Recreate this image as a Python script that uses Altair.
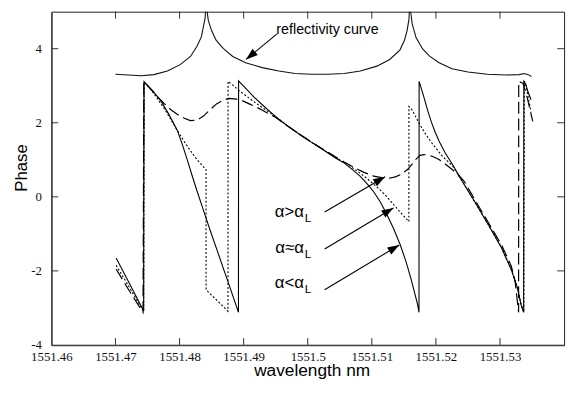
import math
import altair as alt
import pandas as pd

# ---------------- data ----------------
refl_x = [1551.4700, 1551.4720, 1551.4740, 1551.4760, 1551.4781, 1551.4801, 1551.4817, 1551.4827,
          1551.4834, 1551.4837, 1551.4840, 1551.4841, 1551.4843, 1551.4845, 1551.4850, 1551.4857,
          1551.4868, 1551.4883, 1551.4903, 1551.4929, 1551.4955, 1551.4980, 1551.5006, 1551.5031,
          1551.5057, 1551.5082, 1551.5108, 1551.5128, 1551.5144, 1551.5151, 1551.5155, 1551.5158,
          1551.5159, 1551.5161, 1551.5163, 1551.5169, 1551.5179, 1551.5190, 1551.5205, 1551.5225,
          1551.5250, 1551.5280, 1551.5310, 1551.5330, 1551.5338, 1551.5344, 1551.5349]
refl_y = [3.31, 3.29, 3.27, 3.30, 3.40, 3.57, 3.79, 4.06,
          4.32, 4.58, 4.84, 5.30, 5.00, 4.75, 4.49, 4.23,
          4.01, 3.79, 3.62, 3.49, 3.40, 3.33, 3.31, 3.31,
          3.33, 3.40, 3.53, 3.71, 3.97, 4.23, 4.49, 4.80,
          5.30, 4.95, 4.67, 4.30, 4.00, 3.80, 3.62, 3.46,
          3.37, 3.31, 3.29, 3.30, 3.33, 3.30, 3.25]

solid_x = [1551.4701, 1551.4722, 1551.4744, 1551.47445, 1551.4758, 1551.47708, 1551.47836, 1551.47963,
           1551.4804, 1551.48117, 1551.48193, 1551.4827, 1551.48372, 1551.48474, 1551.48577, 1551.48679,
           1551.48781, 1551.48919, 1551.48921, 1551.48975, 1551.49037, 1551.49159, 1551.49282, 1551.4942,
           1551.49548, 1551.49681, 1551.49804, 1551.49926, 1551.5006, 1551.50187, 1551.5031, 1551.50432,
           1551.5057, 1551.50693, 1551.50816, 1551.50928, 1551.51031, 1551.51133, 1551.5123, 1551.51337,
           1551.51445, 1551.51537, 1551.51613, 1551.51675, 1551.51713, 1551.51736, 1551.51738, 1551.51808,
           1551.5187, 1551.51931, 1551.51992, 1551.52054, 1551.5215, 1551.52258, 1551.52411, 1551.52615,
           1551.5282, 1551.53024, 1551.53178, 1551.5327, 1551.53331, 1551.53369, 1551.53372, 1551.5340,
           1551.53434, 1551.53484]
solid_y = [-1.65, -2.35, -3.08, 3.11, 2.87, 2.59, 2.22, 1.80,
           1.43, 1.02, 0.59, 0.17, -0.36, -0.89, -1.40, -1.91,
           -2.42, -3.12, 3.13, 3.03, 2.92, 2.70, 2.50, 2.29,
           2.10, 1.92, 1.77, 1.62, 1.47, 1.33, 1.19, 1.05,
           0.91, 0.74, 0.56, 0.35, 0.13, -0.14, -0.46, -0.85,
           -1.30, -1.77, -2.22, -2.64, -2.90, -3.12, 3.12, 2.72,
           2.34, 2.01, 1.73, 1.49, 1.17, 0.88, 0.42, -0.16,
           -0.76, -1.38, -1.98, -2.45, -2.93, -3.12, 3.12, 3.05,
           2.85, 2.62]

dot_x = [1551.4701, 1551.4722, 1551.4744, 1551.47447, 1551.47554, 1551.47656, 1551.47759, 1551.4786,
         1551.47963, 1551.48066, 1551.48167, 1551.4827, 1551.48413, 1551.48414, 1551.48756, 1551.48757,
         1551.48837, 1551.48934, 1551.49037, 1551.49159, 1551.49282, 1551.4942, 1551.49548, 1551.49681,
         1551.49804, 1551.49926, 1551.5006, 1551.50187, 1551.5031, 1551.50432, 1551.5057, 1551.50693,
         1551.50816, 1551.50928, 1551.51031, 1551.51133, 1551.5123, 1551.51337, 1551.51445, 1551.51521,
         1551.51578, 1551.51579, 1551.51606, 1551.51644, 1551.5169, 1551.51747, 1551.51843, 1551.51951,
         1551.52104, 1551.52258, 1551.52411, 1551.52615, 1551.5282, 1551.53024, 1551.53178, 1551.5327,
         1551.53331, 1551.53372, 1551.5338, 1551.5340, 1551.53484]
dot_y = [-1.85, -2.45, -3.10, 3.10, 2.89, 2.65, 2.39, 2.10,
         1.80, 1.51, 1.25, 1.01, 0.73, -2.51, -3.09, 3.12,
         3.01, 2.86, 2.73, 2.57, 2.42, 2.26, 2.10, 1.92,
         1.77, 1.62, 1.47, 1.33, 1.20, 1.07, 0.93, 0.79,
         0.64, 0.49, 0.34, 0.18, 0.01, -0.20, -0.42, -0.56,
         -0.67, 2.44, 2.40, 2.30, 2.14, 1.96, 1.68, 1.42,
         1.09, 0.84, 0.42, -0.16, -0.75, -1.36, -1.96, -2.43,
         -2.90, -3.12, 3.12, 3.05, 2.30]

dash_x = [1551.4701, 1551.4722, 1551.4743, 1551.47443, 1551.47549, 1551.47656, 1551.47759, 1551.4786,
          1551.47963, 1551.48066, 1551.48167, 1551.4827, 1551.48373, 1551.48474, 1551.48577, 1551.48679,
          1551.48781, 1551.48883, 1551.48986, 1551.49087, 1551.4919, 1551.49293, 1551.49394, 1551.49497,
          1551.49681, 1551.49804, 1551.5006, 1551.5031, 1551.5057, 1551.50726, 1551.50877, 1551.51031,
          1551.51153, 1551.51261, 1551.51368, 1551.5146, 1551.51552, 1551.51629, 1551.5169, 1551.51751,
          1551.51813, 1551.51874, 1551.51951, 1551.52054, 1551.5215, 1551.52258, 1551.5235, 1551.52442,
          1551.52615, 1551.5282, 1551.53024, 1551.53178, 1551.53239, 1551.5329, 1551.53292, 1551.53362,
          1551.53423, 1551.53511]
dash_y = [-1.95, -2.55, -3.12, 3.11, 2.91, 2.70, 2.52, 2.36,
          2.23, 2.13, 2.06, 2.07, 2.18, 2.35, 2.51, 2.61,
          2.66, 2.64, 2.59, 2.51, 2.43, 2.34, 2.24, 2.15,
          1.92, 1.77, 1.48, 1.21, 0.94, 0.79, 0.66, 0.56,
          0.52, 0.50, 0.54, 0.61, 0.73, 0.88, 1.02, 1.12,
          1.14, 1.13, 1.09, 1.00, 0.88, 0.73, 0.59, 0.42,
          -0.10, -0.70, -1.30, -1.88, -2.32, -3.12, 3.12, 3.06,
          2.69, 2.04]

x_tick_labels = [1551.46, 1551.47, 1551.48, 1551.49, 1551.50, 1551.51, 1551.52, 1551.53]
y_tick_labels = [-4, -2, 0, 2, 4]
x_inner_ticks = [1551.47, 1551.48, 1551.49, 1551.50, 1551.51, 1551.52, 1551.53]
y_inner_ticks = [-2, 0, 2, 4]

refl_label = ["reflectivity curve"]
refl_label_x = [1551.4951]
refl_label_y = [4.51]

arrow_x1 = [1551.4952, 1551.50264, 1551.50264, 1551.50264]
arrow_y1 = [4.40, -0.41, -1.41, -2.51]
arrow_x2 = [1551.49037, 1551.51207, 1551.51337, 1551.51429]
arrow_y2 = [3.71, 0.54, -0.30, -1.30]

alpha_main = ["α>α", "α≈α", "α<α"]
alpha_sub = ["L", "L", "L"]
alpha_x = [1551.4994, 1551.4994, 1551.4994]
alpha_y = [-0.41, -1.38, -2.33]

# ---------------- layout ----------------
W, H = 520, 338
XMIN, XMAX = 1551.46, 1551.54
YMIN, YMAX = -4, 5


def px(v):
    return (v - XMIN) / (XMAX - XMIN) * W


def py(v):
    return (YMAX - v) / (YMAX - YMIN) * H


angles = []
for a, b, c, d in zip(arrow_x1, arrow_y1, arrow_x2, arrow_y2):
    dx = px(c) - px(a)
    dy = py(d) - py(b)
    angles.append(math.degrees(math.atan2(dx, -dy)) % 360)

xs = alt.Scale(domain=[XMIN, XMAX], nice=False, zero=False)
ys = alt.Scale(domain=[YMIN, YMAX], nice=False, zero=False)

xaxis = alt.Axis(values=x_tick_labels, labelExpr="datum.value", labelFlush=False,
                 ticks=False, tickSize=0, grid=False, domain=True, domainColor="#444",
                 domainWidth=1.5, labelFont="Liberation Serif", labelFontSize=13,
                 labelColor="#111", labelPadding=6, labelOverlap=False,
                 title="wavelength nm", titleFont="Liberation Sans", titleFontSize=17.5,
                 titleFontWeight="normal", titleColor="#000", titleBaseline="alphabetic",
                 titleX=264, titleY=31)
yaxis = alt.Axis(values=y_tick_labels, labelExpr="datum.value", labelFlush=False,
                 ticks=False, tickSize=0, grid=False, domain=True, domainColor="#444",
                 domainWidth=1.5, labelFont="Liberation Serif", labelFontSize=13,
                 labelColor="#111", labelPadding=10, labelOverlap=False,
                 title="Phase", titleFont="Liberation Sans", titleFontSize=17,
                 titleFontWeight="normal", titleColor="#000", titleBaseline="alphabetic",
                 titleX=-25, titleY=158)

X = alt.X("x:Q", scale=xs, axis=xaxis)
Y = alt.Y("y:Q", scale=ys, axis=yaxis)


def series(xv, yv):
    return pd.DataFrame({"x": xv, "y": yv, "i": list(range(len(xv)))})


refl = alt.Chart(series(refl_x, refl_y)).mark_line(
    color="#111", strokeWidth=1.1, clip=True).encode(x=X, y=Y, order="i:Q")
solid = alt.Chart(series(solid_x, solid_y)).mark_line(
    color="#000", strokeWidth=1.1).encode(x=X, y=Y, order="i:Q")
dotted = alt.Chart(series(dot_x, dot_y)).mark_line(
    color="#000", strokeWidth=1.1, strokeDash=[2, 2]).encode(x=X, y=Y, order="i:Q")
dashed = alt.Chart(series(dash_x, dash_y)).mark_line(
    color="#000", strokeWidth=1.2, strokeDash=[12, 5]).encode(x=X, y=Y, order="i:Q")

tick_x_df = pd.DataFrame({"x": x_inner_ticks})
tick_y_df = pd.DataFrame({"y": y_inner_ticks})
ticks_bottom = alt.Chart(tick_x_df).mark_rule(color="#333", strokeWidth=1).encode(
    x=X, y=alt.value(H), y2=alt.value(H - 7))
ticks_top = alt.Chart(tick_x_df).mark_rule(color="#333", strokeWidth=1).encode(
    x=X, y=alt.value(0), y2=alt.value(7))
ticks_left = alt.Chart(tick_y_df).mark_rule(color="#333", strokeWidth=1).encode(
    y=Y, x=alt.value(0), x2=alt.value(7))
ticks_right = alt.Chart(tick_y_df).mark_rule(color="#333", strokeWidth=1).encode(
    y=Y, x=alt.value(W), x2=alt.value(W - 7))

arrow_df = pd.DataFrame({"x": arrow_x1, "y": arrow_y1, "x2": arrow_x2, "y2": arrow_y2})
arrow_lines = alt.Chart(arrow_df).mark_rule(color="#000", strokeWidth=1.1).encode(
    x=X, y=Y, x2="x2:Q", y2="y2:Q")
head_df = pd.DataFrame({"x": arrow_x2, "y": arrow_y2, "ang": angles})
heads = alt.Chart(head_df).mark_point(
    shape="M0,0L-0.7,2L0.7,2Z", filled=True, color="#000", opacity=1, size=144,
    strokeWidth=0).encode(x=X, y=Y, angle=alt.Angle("ang:Q", scale=None))

refl_text = alt.Chart(pd.DataFrame({"x": refl_label_x, "y": refl_label_y, "t": refl_label})).mark_text(
    align="left", baseline="middle", font="Liberation Sans", fontSize=14.5, color="#000").encode(
    x=X, y=Y, text="t:N")

alpha_df = pd.DataFrame({"x": alpha_x, "y": alpha_y, "t": alpha_main, "s": alpha_sub})
alpha_text = alt.Chart(alpha_df).mark_text(
    align="right", baseline="middle", font="Liberation Sans", fontSize=17, color="#000").encode(
    x=X, y=Y, text="t:N")
alpha_subtext = alt.Chart(alpha_df).mark_text(
    align="left", baseline="middle", font="Liberation Sans", fontSize=12, color="#000",
    dx=1, dy=6).encode(x=X, y=Y, text="s:N")

chart = alt.layer(
    refl, dashed, dotted, solid,
    ticks_bottom, ticks_top, ticks_left, ticks_right,
    arrow_lines, heads, refl_text, alpha_text, alpha_subtext
).properties(
    width=W, height=H,
    autosize=alt.AutoSizeParams(type="none"),
    padding={"left": 44, "top": 1, "right": 6, "bottom": 46},
    background="white"
).configure_view(stroke="#222", strokeWidth=1)

chart.save("out.html", embed_options={"renderer": "svg", "actions": False})
